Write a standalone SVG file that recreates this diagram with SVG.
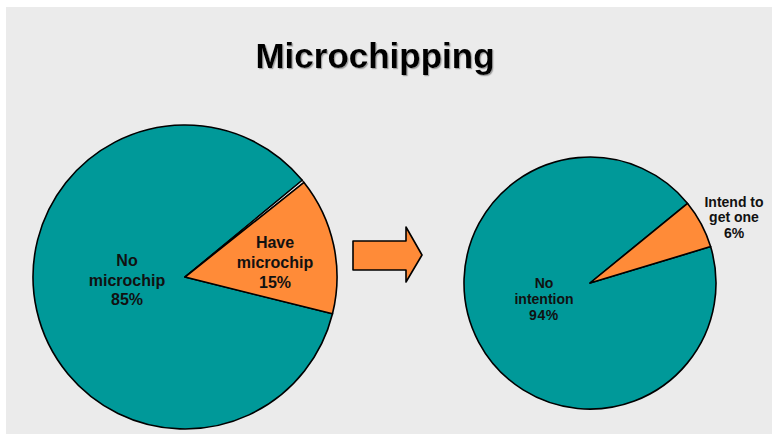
<svg xmlns="http://www.w3.org/2000/svg" width="772" height="434" viewBox="0 0 772 434">
  <style>
    .teal { fill: #009999; stroke: #000; stroke-width: 1.6; stroke-linejoin: round; }
    .orange { fill: #FF8B38; stroke: #000; stroke-width: 1.6; stroke-linejoin: round; }
    .gap { fill: #EBEBEB; stroke: #000; stroke-width: 1.2; stroke-linejoin: round; }
    .lbl { font-family: "Liberation Sans", Arial, sans-serif; font-weight: bold; fill: #111; text-anchor: middle; }
    .title { font-family: "Liberation Sans", Arial, sans-serif; font-weight: bold; font-size: 35px; text-anchor: middle; }
  </style>
  <defs>
    <filter id="shadow" x="-5%" y="-20%" width="110%" height="140%">
      <feDropShadow dx="1.2" dy="1.2" stdDeviation="0.6" flood-color="#808080" flood-opacity="0.7"/>
    </filter>
  </defs>

  <rect x="0" y="0" width="772" height="434" fill="#FFFFFF"/>
  <rect x="6" y="7" width="766" height="427" fill="#EBEBEB"/>

  <text class="title" x="375" y="68" filter="url(#shadow)">Microchipping</text>

  <!-- Current status pie -->
  <g id="pie-current">
    <path class="teal" d="M185,277 L302.3,180.3 A152,152 0 1 0 332.5,313.8 Z"/>
    <path class="gap" d="M185,277 L304.0,182.4 A152,152 0 0 0 302.3,180.3 Z"/>
    <path class="orange" d="M185,277 L332.5,313.8 A152,152 0 0 0 304.0,182.4 Z"/>
    <text class="lbl" font-size="16" x="127" y="266">No</text>
    <text class="lbl" font-size="16" x="127" y="286">microchip</text>
    <text class="lbl" font-size="16" x="127" y="305">85%</text>
    <text class="lbl" font-size="16" x="275" y="248">Have</text>
    <text class="lbl" font-size="16" x="275" y="268">microchip</text>
    <text class="lbl" font-size="16" x="275" y="288">15%</text>
  </g>

  <!-- Connector between the two charts -->
  <g id="connectors">
    <polygon class="orange" stroke-width="2" points="353,241 406,241 406,227 422,255 406,282 406,270 353,270"/>
  </g>

  <!-- Intention pie -->
  <g id="pie-intention">
    <path class="teal" d="M590,283 L687.6,203.4 A126,126 0 1 0 710.6,246.6 Z"/>
    <path class="orange" d="M590,283 L710.6,246.6 A126,126 0 0 0 687.6,203.4 Z"/>
    <text class="lbl" font-size="14" x="544" y="288">No</text>
    <text class="lbl" font-size="14" x="544" y="304">intention</text>
    <text class="lbl" font-size="14" x="544" y="320" letter-spacing="0.6">94%</text>
    <text class="lbl" font-size="14" x="734" y="207">Intend to</text>
    <text class="lbl" font-size="14" x="734" y="222">get one</text>
    <text class="lbl" font-size="14" x="734" y="238">6%</text>
  </g>
</svg>
